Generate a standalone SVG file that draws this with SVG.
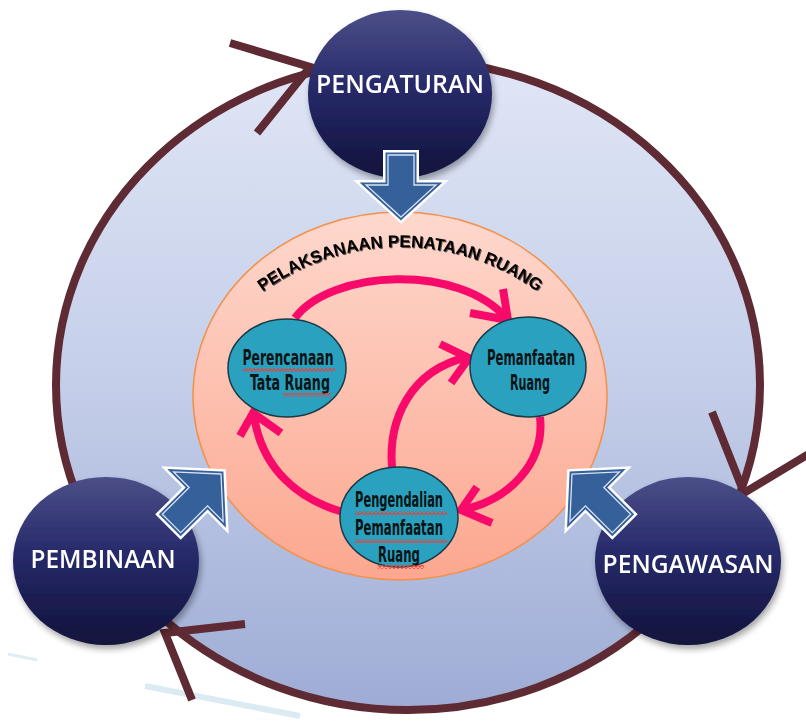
<svg xmlns="http://www.w3.org/2000/svg" xmlns:xlink="http://www.w3.org/1999/xlink" width="806" height="724" viewBox="0 0 806 724">
<defs>
<linearGradient id="gBig" x1="0" y1="0" x2="0" y2="1">
<stop offset="0" stop-color="#e0e6f6"/>
<stop offset="0.5" stop-color="#c4cee9"/>
<stop offset="1" stop-color="#9eacd5"/>
</linearGradient>
<linearGradient id="gInner" x1="0" y1="0" x2="0" y2="1">
<stop offset="0" stop-color="#fed8cd"/>
<stop offset="1" stop-color="#fca78f"/>
</linearGradient>
<linearGradient id="gNode" x1="0" y1="0" x2="0" y2="1">
<stop offset="0" stop-color="#4c4f88"/>
<stop offset="0.45" stop-color="#272a6a"/>
<stop offset="1" stop-color="#11123c"/>
</linearGradient>
<filter id="sh" x="-20%" y="-20%" width="150%" height="150%">
<feDropShadow dx="2" dy="4" stdDeviation="3" flood-color="#000" flood-opacity="0.35"/>
</filter>
<filter id="tsh" x="-10%" y="-30%" width="120%" height="160%">
<feDropShadow dx="1" dy="1" stdDeviation="0.6" flood-color="#000" flood-opacity="0.6"/>
</filter>
<pattern id="sq" width="4" height="4" patternUnits="userSpaceOnUse">
<path d="M0,3.5 L2,0.5 L4,3.5" fill="none" stroke="#e8413c" stroke-width="1.2"/>
</pattern>
<path id="titleArc" d="M167,480 A233,233 0 0 1 633,480"/>
<polygon id="blk" points="0,0 -32,-35 -32,-13 -62,-13 -62,13 -32,13 -32,35"/>
<polygon id="blkL" points="0,0 -32,-35 -32,-13 -70,-13 -70,13 -32,13 -32,35"/>
</defs>
<style>
.ring{fill:none;stroke:#5e2a33;stroke-width:8;stroke-linejoin:miter}
.pink{fill:none;stroke:#f80a6a;stroke-width:8;stroke-linecap:butt;stroke-linejoin:miter}
.outer{fill:url(#gNode)}
.otext{font-family:"Open Sans","Liberation Sans",sans-serif;font-weight:600;font-size:25px;fill:#ffffff;text-anchor:middle}
.teal{fill:#2aa2bf;stroke:#1a3a46;stroke-width:1.5}
.ttext{font-family:"Liberation Sans Narrow","DejaVu Sans Condensed","DejaVu Sans",sans-serif;font-stretch:condensed;font-weight:bold;font-size:21px;fill:#0d1416;text-anchor:middle}
.bw{fill:#ffffff;stroke:#ffffff;stroke-width:10;stroke-linejoin:miter}
.bb{fill:#36609a;stroke:#36609a;stroke-width:5;stroke-linejoin:miter}
.bl{fill:none;stroke:#d8e3f2;stroke-width:1.3;stroke-linejoin:miter}
</style>
<rect width="806" height="724" fill="#ffffff"/>
<line x1="8" y1="654" x2="37" y2="660" stroke="#e0eef3" stroke-width="3"/>
<line x1="145" y1="686" x2="300" y2="716" stroke="#dcebf1" stroke-width="6"/>
<g id="cycle-background">
<ellipse cx="408" cy="385" rx="352" ry="325" fill="url(#gBig)"/>
</g>
<g id="connectors-ring">
<ellipse cx="408" cy="385" rx="352" ry="325" class="ring"/>
<polyline class="ring" points="230,43 310,67 257,133"/>
<polyline class="ring" points="712,412 744,493 812,452"/>
<polyline class="ring" points="245,624 165,633 192,700"/>
</g>
<g id="pelaksanaan">
<ellipse cx="400" cy="396" rx="207" ry="184" fill="url(#gInner)" stroke="#f2914f" stroke-width="1.5"/>
<text font-family="'Liberation Sans',Arial,sans-serif" font-weight="bold" font-size="17" fill="#000" filter="url(#tsh)"><textPath href="#titleArc" xlink:href="#titleArc" startOffset="50%" text-anchor="middle">PELAKSANAAN PENATAAN RUANG</textPath></text>
</g>
<g id="connectors-inner">
<path class="pink" d="M295,318 C330,270 460,262 508,320"/>
<polyline class="pink" points="503,289 508,320 470,313"/>
<path class="pink" d="M540,417 C545,462 510,500 462,510"/>
<polyline class="pink" points="477,487 461,510 492,523"/>
<path class="pink" d="M392,468 C388,420 410,370 468,357"/>
<polyline class="pink" points="440,344 469,358 451,383"/>
<path class="pink" d="M343,512 C300,500 262,470 254,416"/>
<polyline class="pink" points="240,436 253,413 281,433"/>
</g>
<g id="node-perencanaan">
<ellipse class="teal" cx="287" cy="368" rx="59" ry="49"/>
<text class="ttext" x="288" y="365" textLength="91" lengthAdjust="spacingAndGlyphs">Perencanaan</text>
<text class="ttext" x="290" y="390" textLength="80" lengthAdjust="spacingAndGlyphs">Tata Ruang</text>
<rect x="243" y="368" width="92" height="4" fill="url(#sq)"/>
<rect x="283" y="393" width="48" height="4" fill="url(#sq)"/>
</g>
<g id="node-pemanfaatan">
<ellipse class="teal" cx="528" cy="367" rx="58" ry="50"/>
<text class="ttext" x="531" y="365" textLength="88" lengthAdjust="spacingAndGlyphs">Pemanfaatan</text>
<text class="ttext" x="530" y="390" textLength="40" lengthAdjust="spacingAndGlyphs">Ruang</text>
</g>
<g id="node-pengendalian">
<ellipse class="teal" cx="399" cy="517" rx="59" ry="50"/>
<text class="ttext" x="399" y="507" textLength="88" lengthAdjust="spacingAndGlyphs">Pengendalian</text>
<text class="ttext" x="399" y="535" textLength="88" lengthAdjust="spacingAndGlyphs">Pemanfaatan</text>
<text class="ttext" x="399" y="562" textLength="42" lengthAdjust="spacingAndGlyphs">Ruang</text>
<rect x="355" y="511" width="92" height="4" fill="url(#sq)"/>
<rect x="355" y="539" width="92" height="4" fill="url(#sq)"/>
<rect x="378" y="565" width="46" height="4" fill="url(#sq)"/>
</g>
<g id="node-pengaturan" filter="url(#sh)">
<ellipse class="outer" cx="400" cy="94" rx="92" ry="84"/>
<text class="otext" x="400" y="93" textLength="168" lengthAdjust="spacingAndGlyphs">PENGATURAN</text>
</g>
<g id="node-pembinaan" filter="url(#sh)">
<ellipse class="outer" cx="106" cy="561" rx="93" ry="84"/>
<text class="otext" x="103" y="568" textLength="145" lengthAdjust="spacingAndGlyphs">PEMBINAAN</text>
</g>
<g id="node-pengawasan" filter="url(#sh)">
<ellipse class="outer" cx="688" cy="561" rx="93" ry="84"/>
<text class="otext" x="688" y="573" textLength="171" lengthAdjust="spacingAndGlyphs">PENGAWASAN</text>
</g>
<g id="connectors-flow">
<g transform="translate(401,217) rotate(90)">
<use href="#blk" xlink:href="#blk" class="bw"/>
<use href="#blk" xlink:href="#blk" class="bb"/>
<use href="#blk" xlink:href="#blk" class="bl"/>
</g>
<g transform="translate(221,474) rotate(-45)">
<use href="#blkL" xlink:href="#blkL" class="bw"/>
<use href="#blkL" xlink:href="#blkL" class="bb"/>
<use href="#blkL" xlink:href="#blkL" class="bl"/>
</g>
<g transform="translate(572,474) rotate(-135)">
<use href="#blkL" xlink:href="#blkL" class="bw"/>
<use href="#blkL" xlink:href="#blkL" class="bb"/>
<use href="#blkL" xlink:href="#blkL" class="bl"/>
</g>
</g>
</svg>
